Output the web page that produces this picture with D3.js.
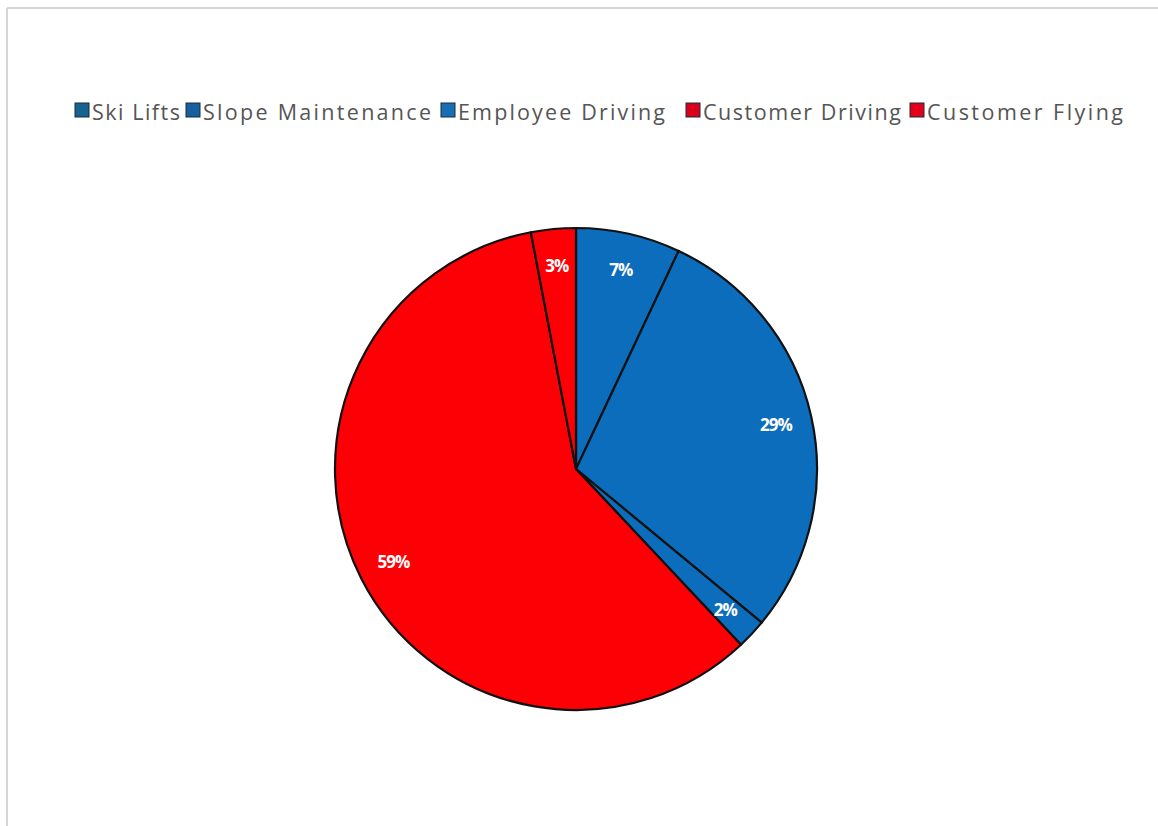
<!DOCTYPE html>
<html>
<head>
<meta charset="utf-8">
<script src="https://cdn.jsdelivr.net/npm/d3@7"></script>
<style>
  html, body { margin: 0; padding: 0; background: #ffffff; }
  svg { display: block; }
</style>
</head>
<body>
<svg id="chart" width="1158" height="826"></svg>
<script>
// Emission sources and their share of the total footprint (%)
const categories = ["Ski Lifts", "Slope Maintenance", "Employee Driving", "Customer Driving", "Customer Flying"];
const shares = [7, 29, 2, 59, 3];
const sliceColors = ["#0b6dbb", "#0b6dbb", "#0b6dbb", "#fd0006", "#fd0006"];
const legendSwatch = ["#17628f", "#16609f", "#176eb5", "#d9001b", "#e4001a"];

const svg = d3.select("#chart");
const W = 1158, H = 826;

// chart frame (top and left edges)
svg.append("line").attr("x1", 7).attr("y1", 8).attr("x2", W).attr("y2", 8)
  .attr("stroke", "#d6d6d6").attr("stroke-width", 2);
svg.append("line").attr("x1", 7).attr("y1", 8).attr("x2", 7).attr("y2", H)
  .attr("stroke", "#d6d6d6").attr("stroke-width", 2);

// legend
const legendX = [75, 186, 441, 686, 910];
const legendEnd = [180, 431, 665, 901, 1123];
const legendY = 111;
const legend = svg.append("g").attr("class", "legend");
categories.forEach((name, i) => {
  const g = legend.append("g");
  g.append("rect")
    .attr("x", legendX[i]).attr("y", legendY - 8)
    .attr("width", 14).attr("height", 14)
    .attr("fill", legendSwatch[i])
    .attr("stroke", "#1a2a3a").attr("stroke-width", 1);
  g.append("text")
    .attr("x", legendX[i] + 17).attr("y", legendY)
    .attr("dominant-baseline", "central")
    .attr("font-family", "'Open Sans', 'Noto Sans', sans-serif")
    .attr("font-size", 21.5)
    .attr("fill", "#555555")
    .attr("textLength", legendEnd[i] - legendX[i] - 17)
    .attr("lengthAdjust", "spacing")
    .text(name);
});

// pie
const cx = 576, cy = 469, R = 241;
const pie = d3.pie().value(d => d).sort(null);
const arcs = pie(shares);
const arc = d3.arc().innerRadius(0).outerRadius(R);
const labelArc = d3.arc().innerRadius(R * 0.85).outerRadius(R * 0.85);

const g = svg.append("g").attr("transform", `translate(${cx},${cy})`);
g.selectAll("path.slice")
  .data(arcs)
  .join("path")
  .attr("class", "slice")
  .attr("d", arc)
  .attr("fill", (d, i) => sliceColors[i])
  .attr("stroke", "#111111")
  .attr("stroke-width", 2.2)
  .attr("stroke-linejoin", "round");

g.selectAll("text.label")
  .data(arcs)
  .join("text")
  .attr("class", "label")
  .attr("transform", d => `translate(${labelArc.centroid(d)})`)
  .attr("text-anchor", "middle")
  .attr("dominant-baseline", "central")
  .attr("font-family", "'Open Sans', 'Noto Sans', sans-serif")
  .attr("font-weight", "bold")
  .attr("font-size", 17)
  .attr("letter-spacing", -1)
  .attr("fill", "#ffffff")
  .text(d => d.data + "%");
</script>
</body>
</html>
